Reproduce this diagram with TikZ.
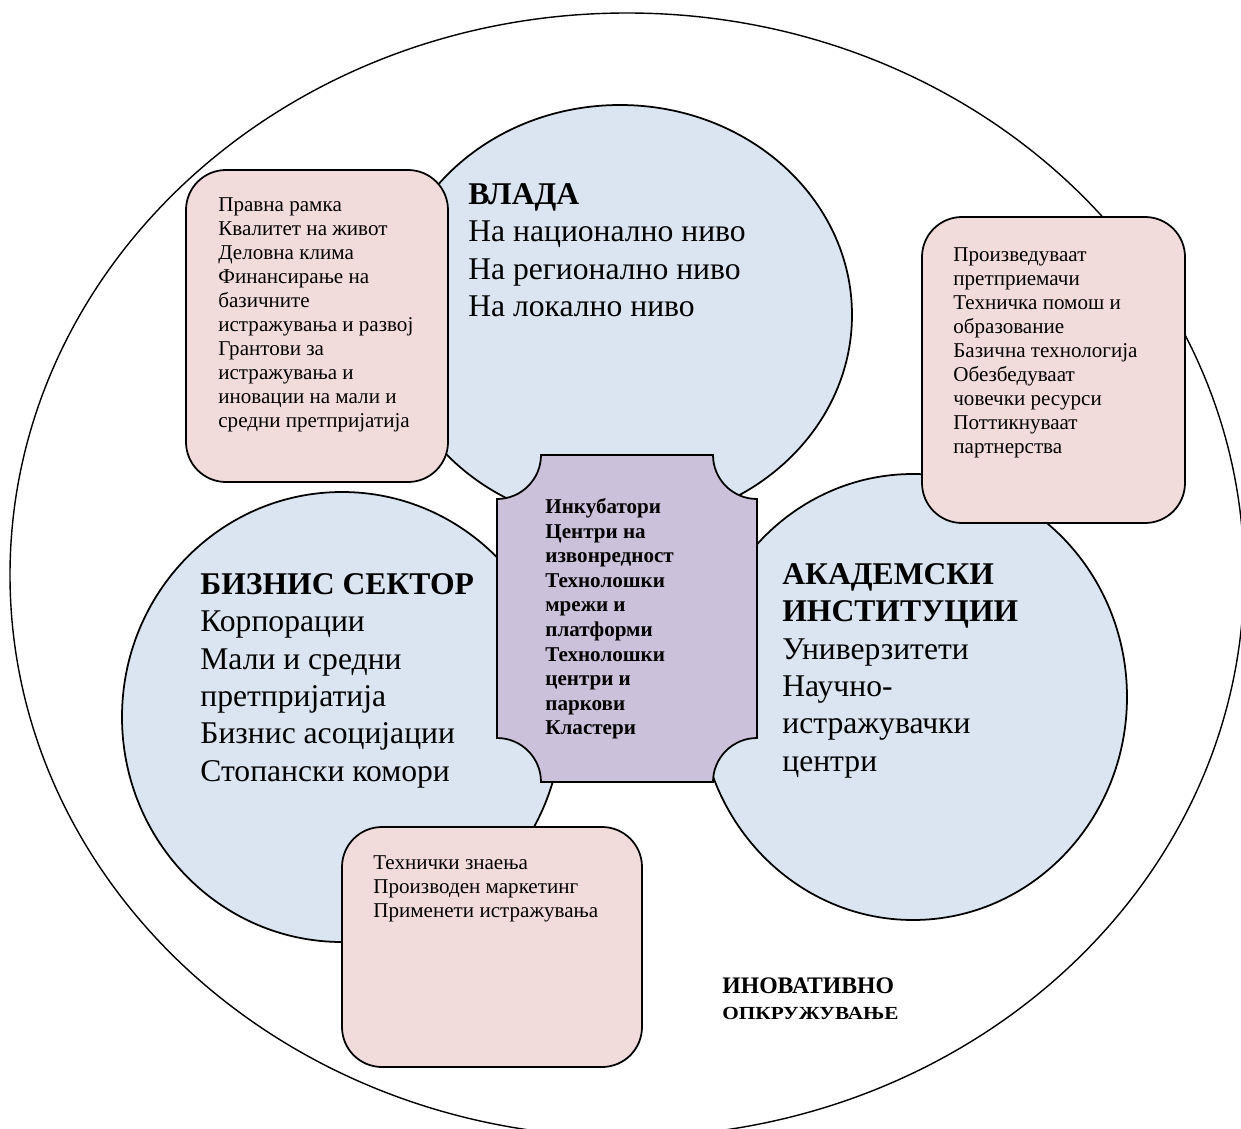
\documentclass[tikz,border=0pt]{standalone}
\usepackage{fontspec}
\usepackage{graphicx}
\setmainfont{Liberation Serif}
\definecolor{sectorblue}{RGB}{219,229,241}
\definecolor{rolepink}{RGB}{242,220,219}
\definecolor{hubviolet}{RGB}{204,193,218}

\begin{document}
\begin{tikzpicture}[x=0.02cm, y=-0.02cm,
  sector/.style={draw, line width=1pt, fill=sectorblue},
  rolebox/.style={draw, line width=1pt, fill=rolepink, rounded corners=0.8cm},
  txt/.style={anchor=north west, inner sep=0pt, align=left},
  small/.style={txt, font=\fontsize{12}{13.7}\selectfont},
  large/.style={txt, font=\fontsize{18}{21.3}\selectfont}]

  \useasboundingbox (0,0) rectangle (1241,1129);

  % innovative environment
  \draw[line width=0.8pt, fill=white] (627,575) ellipse [x radius=617, y radius=562];

  % the three sectors
  \draw[sector] (620,315) ellipse [x radius=232, y radius=210];
  \draw[sector] (342,717) ellipse [x radius=220, y radius=225];
  \draw[sector] (913,697) ellipse [x radius=214, y radius=223];

  \node[large] (gov) at (468,183)
    {\textbf{ВЛАДА}\\ На национално ниво\\ На регионално ниво\\ На локално ниво};
  \node[large] (biz) at (200,573)
    {\textbf{БИЗНИС СЕКТОР}\\ Корпорации\\ Мали и средни\\ претпријатија\\
     Бизнис асоцијации\\ Стопански комори};
  \node[large] (acad) at (782,563)
    {\textbf{АКАДЕМСКИ}\\ \textbf{ИНСТИТУЦИИ}\\ Универзитети\\ Научно-\\
     истражувачки\\ центри};

  % roles
  \draw[rolebox] (186,170) rectangle (448,482);
  \node[small] (govrole) at (218,197)
    {Правна рамка\\ Квалитет на живот\\ Деловна клима\\ Финансирање на\\ базичните\\
     истражувања и развој\\ Грантови за\\ истражувања и\\ иновации на мали и\\
     средни претпријатија};

  \draw[rolebox] (922,217) rectangle (1185,523);
  \node[small] (acadrole) at (953,247)
    {Произведуваат\\ претприемачи\\ Техничка помош и\\ образование\\
     Базична технологија\\ Обезбедуваат\\ човечки ресурси\\ Поттикнуваат\\ партнерства};

  \draw[rolebox] (342,827) rectangle (642,1067);
  \node[small] (bizrole) at (373,855)
    {Технички знаења\\ Производен маркетинг\\ Применети истражувања};

  % hub in the middle
  \draw[line width=1pt, fill=hubviolet]
    (541,455) -- (713,455) arc[start angle=180, end angle=90, radius=44]
    -- (757,738) arc[start angle=270, end angle=180, radius=44]
    -- (541,782) arc[start angle=0, end angle=-90, radius=44]
    -- (497,499) arc[start angle=90, end angle=0, radius=44] -- cycle;
  \node[small, font=\bfseries\fontsize{12}{14}\selectfont] (hub) at (545,498)
    {Инкубатори\\ Центри на\\ извонредност\\ Технолошки\\ мрежи и\\ платформи\\
     Технолошки\\ центри и\\ паркови\\ Кластери};

  \node[txt, font=\bfseries\fontsize{13.5}{15.3}\selectfont] (env) at (722,977)
    {ИНОВАТИВНО\\ {\fontsize{10.5}{15.3}\selectfont\scalebox{1.15}[1]{ОПКРУЖУВАЊЕ}}};
\end{tikzpicture}
\end{document}
